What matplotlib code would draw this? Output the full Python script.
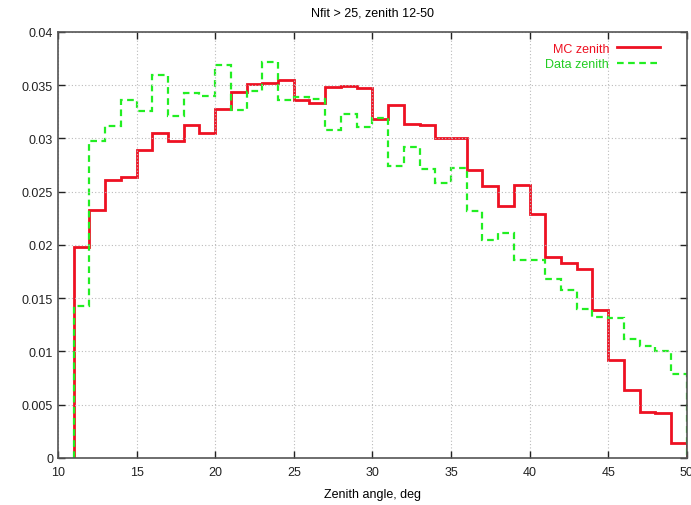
import matplotlib
matplotlib.use("Agg")
import matplotlib.pyplot as plt
import numpy as np

# bin edges (1 degree bins from 11 to 50)
edges = np.arange(11, 51)

mc_zenith = [
    0.0198, 0.0233, 0.0261, 0.0264, 0.0289, 0.0305, 0.0298, 0.0313, 0.0305, 0.0328,
    0.0344, 0.0351, 0.0352, 0.0355, 0.0336, 0.0333, 0.0348, 0.0349, 0.0347, 0.0318,
    0.0331, 0.0314, 0.0313, 0.0300, 0.0300, 0.0270, 0.0255, 0.0237, 0.0256, 0.0229,
    0.0189, 0.0183, 0.0177, 0.0139, 0.0092, 0.0064, 0.0043, 0.0042, 0.0014,
]
data_zenith = [
    0.0143, 0.0298, 0.0312, 0.0336, 0.0326, 0.0360, 0.0321, 0.0343, 0.0340, 0.0369,
    0.0327, 0.0345, 0.0372, 0.0336, 0.0339, 0.0337, 0.0308, 0.0323, 0.0311, 0.0319,
    0.0274, 0.0292, 0.0271, 0.0258, 0.0272, 0.0232, 0.0205, 0.0211, 0.0186, 0.0186,
    0.0168, 0.0158, 0.0140, 0.0132, 0.0131, 0.0112, 0.0105, 0.0100, 0.0079,
]

xticks = [10, 15, 20, 25, 30, 35, 40, 45, 50]
yticks = [0, 0.005, 0.01, 0.015, 0.02, 0.025, 0.03, 0.035, 0.04]
ytick_labels = ["0", "0.005", "0.01", "0.015", "0.02", "0.025", "0.03", "0.035", "0.04"]

plt.rcParams["font.family"] = ["Liberation Sans", "DejaVu Sans"]
plt.rcParams["font.size"] = 9

fig = plt.figure(figsize=(6.91, 5.06), dpi=100)
ax = fig.add_axes([0.0839, 0.0929, 0.9100, 0.8419])

ax.stairs(mc_zenith, edges, baseline=0, color="#ee1122", linewidth=2.0,
          label="MC zenith")
ax.stairs(data_zenith, edges, baseline=0, color="#22ee22", linewidth=1.6,
          linestyle=(0, (3, 2)), label="Data zenith")

ax.set_xlim(10, 50)
ax.set_ylim(0, 0.04)
ax.set_xticks(xticks)
ax.set_yticks(yticks)
ax.set_yticklabels(ytick_labels)
ax.tick_params(direction="in", top=True, right=True, length=5, width=1,
               labelsize=9, colors="#222222")
ax.tick_params(axis="x", pad=6)
for sp in ax.spines.values():
    sp.set_color("#555555")
    sp.set_linewidth(1.2)
ax.grid(True, linestyle=(0, (1, 2)), color="#bbbbbb", linewidth=0.8)

ax.set_title("Nfit > 25, zenith 12-50", fontsize=9, pad=12)
ax.set_xlabel("Zenith angle, deg", fontsize=9, labelpad=7)

leg = ax.legend(loc="upper right", bbox_to_anchor=(0.972, 0.995), frameon=False,
                markerfirst=False, handlelength=3.5, handletextpad=0.6,
                labelspacing=0.25, borderaxespad=0.3, fontsize=9)
for txt, col in zip(leg.get_texts(), ["#ee1122", "#22cc22"]):
    txt.set_color(col)

fig.savefig("out.png", dpi=100)
